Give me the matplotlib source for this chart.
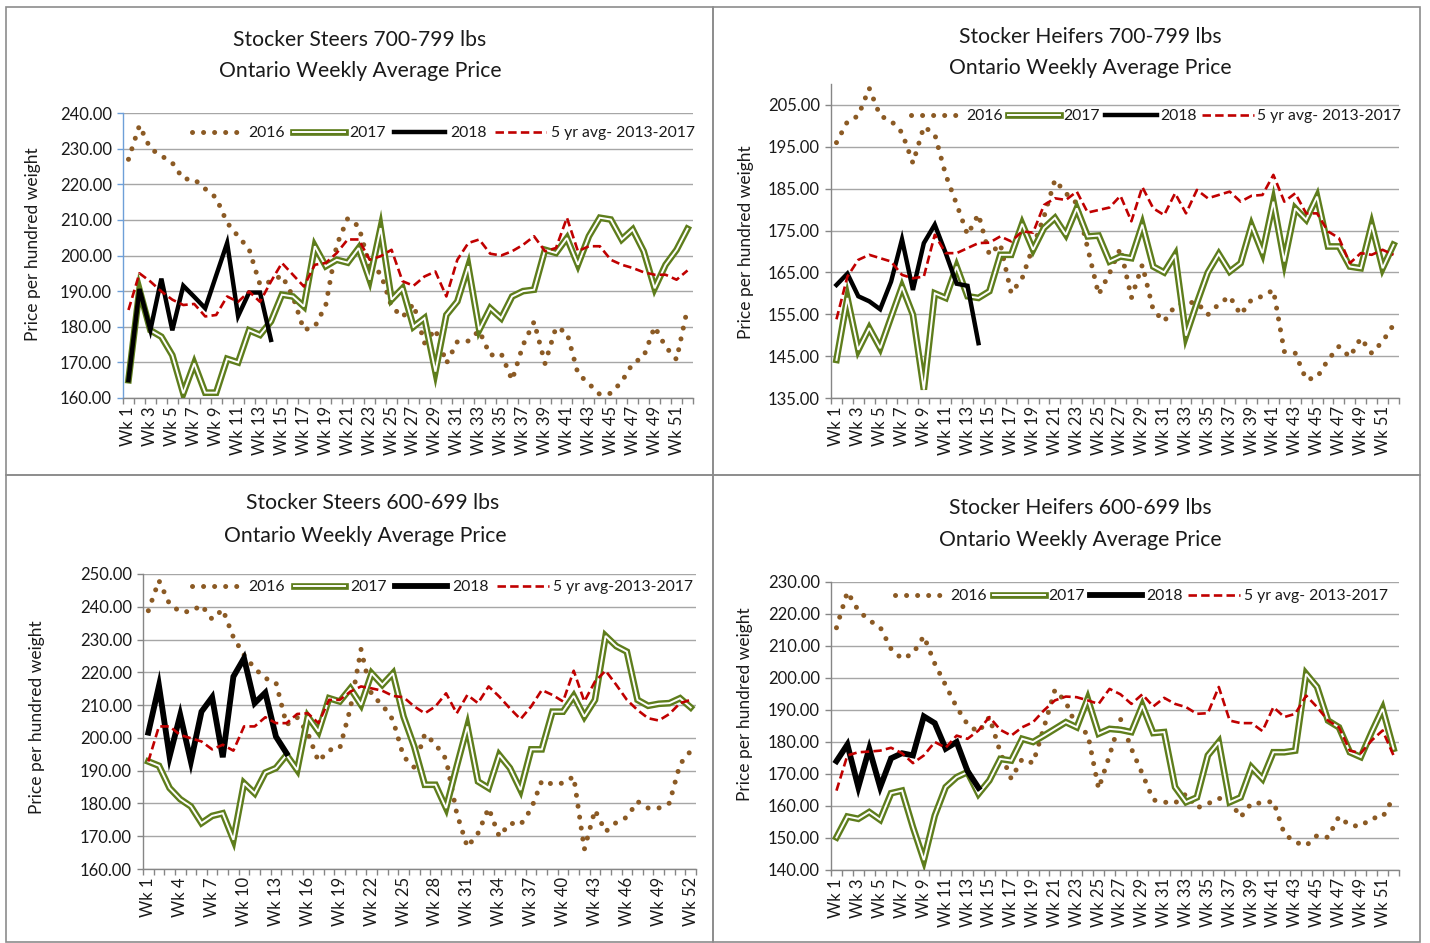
import matplotlib
matplotlib.use("Agg")
import matplotlib.pyplot as plt
from matplotlib.patches import Rectangle
from matplotlib.legend_handler import HandlerTuple
import numpy as np

plt.rcParams['font.family'] = ['Lato', 'DejaVu Sans']

weeks = list(range(1, 53))

# ---------------- Panel 1: Stocker Steers 700-799 lbs ----------------
p1_title = "Stocker Steers 700-799 lbs"
p1_2016 = [227, 236.5, 230, 228, 226, 221.5, 221.4, 218.7, 216.2, 209.2, 205.4, 201.8, 191.8, 192.7,
           194.4, 188.5, 179.1, 180, 186.1, 203, 210.4, 208.2, 197, 195, 185.7, 182.7, 186.4, 175.4,
           179.3, 169.7, 175.8, 176, 178.9, 172, 172.5, 165, 174.9, 181.4, 169.7, 179.8, 178.4, 166.9,
           164, 161, 161.3, 164.6, 169.7, 171.6, 180, 174.4, 170.8, 185.2]
p1_2017 = [165, 190.4, 179, 177.2, 172, 161.3, 169.7, 161.5, 161.5, 171, 170, 179, 177.7, 181.5,
           189, 188.5, 185.7, 202.6, 197, 198.8, 198, 202.1, 193.2, 207.7, 187.6, 190.8, 180, 182.4,
           167.4, 183.3, 187.1, 197, 179.1, 185.2, 182.4, 188.5, 190, 190.4, 201.6, 200.7, 204.9, 197.4,
           205.4, 210.6, 210.1, 204.5, 207.3, 201.2, 190.8, 197.4, 201.6, 207.5]
p1_2018 = [165, 190.6, 179.1, 193.5, 179, 191.5, 188.4, 185.2, 194.4, 203.5, 183, 189.6, 189.6, 176.3]
p1_avg = [184.7, 195, 192.7, 189.9, 187.6, 186.1, 186.4, 182.9, 183.3, 188.5, 187, 189.9, 187, 192.7,
          197.9, 194.6, 191.3, 197.4, 197.9, 200.7, 204.5, 204.5, 198.8, 199.8, 201.6, 192.8, 191.5, 194.1,
          195.5, 188.5, 198.8, 203.5, 204.5, 200.5, 200, 201.2, 203, 205.4, 201.2, 202.1, 210.6, 201.2,
          202.6, 202.6, 198.8, 197.4, 196.5, 195.3, 194.6, 194.6, 193.2, 195.8]

# ---------------- Panel 2: Stocker Heifers 700-799 lbs ----------------
p2_title = "Stocker Heifers 700-799 lbs"
p2_2016 = [196, 201, 202.4, 209, 202.4, 201.2, 198.4, 191.1, 199.8, 198, 188.3, 181.3, 174, 178.9,
           169.2, 171.8, 160, 163.6, 171.2, 178.3, 187.1, 183.9, 181.5, 170.8, 159.7, 164.8, 170.8, 158.9,
           166.8, 156, 153.3, 157, 157.8, 157.8, 154.9, 157.4, 159.3, 154.9, 158.5, 159.3, 160.8, 146.1,
           145.7, 139.4, 139.9, 144.1, 147.3, 144.8, 149.3, 145.7, 148.5, 152.5]
p2_2017 = [144.1, 158.9, 146.5, 151.7, 146.9, 154.3, 161.6, 154.9, 137, 160, 158.9, 166.4, 159.3, 158.9,
           160.5, 169.2, 169.2, 176.6, 170.4, 175.6, 178, 174, 180.3, 173.6, 173.8, 167.6, 168.8, 168.4,
           176.4, 166.4, 165, 169.2, 149.9, 157.7, 165, 169.4, 165.2, 167.2, 176.2, 169.6, 181.9, 167.6,
           180.3, 177.6, 183.1, 171.2, 171.2, 166.4, 166, 176.4, 166, 171.6]
p2_2018 = [162, 164.7, 159.3, 158.1, 156.2, 162.8, 172.9, 160.8, 172, 176.4, 169.6, 162.3, 161.8, 148.1]
p2_avg = [153.8, 164, 168, 169.2, 168.4, 167.6, 164.4, 163.6, 164, 174, 169.6, 169.6, 170.8, 172,
          172.1, 173.6, 172.4, 174.8, 174.5, 181.1, 182.7, 182.3, 184.3, 179.3, 179.9, 180.5, 183.3, 177.2,
          185.4, 180.3, 178.7, 183.9, 179.1, 184.7, 182.7, 183.5, 184.3, 181.9, 183.3, 183.5, 188.3, 181.9,
          183.9, 179.1, 179.1, 174.8, 173.2, 167.2, 169.6, 169.2, 170.4, 169.2]

# ---------------- Panel 3: Stocker Steers 600-699 lbs ----------------
p3_title = "Stocker Steers 600-699 lbs"
p3_2016 = [238.8, 248, 240.8, 238.5, 238.5, 240.5, 236.2, 239.2, 230.7, 225.3, 221.2, 218.2, 216.9, 204,
           206.2, 201.4, 192.8, 196.3, 196.8, 209, 227, 213.1, 210.1, 205.5, 194.3, 191, 201.2, 198.1,
           193.5, 177, 166.7, 170.9, 178.6, 169.9, 174, 173.5, 178.3, 186.9, 185.9, 186.2, 188.2, 166,
           178, 171.4, 174.2, 175.8, 180.6, 178.6, 178.6, 180.1, 192, 196]
p3_2017 = [192.8, 191.5, 184.7, 181.3, 179.1, 174, 176.2, 177, 168.9, 186.2, 183.1, 189.4, 190.8, 194.8,
           190.2, 206.5, 201.9, 212.1, 211.1, 215.1, 210.1, 219.7, 216.2, 219.7, 206.5, 197.4, 185.7, 185.7,
           178.6, 191.3, 203.5, 186.7, 184.7, 194.8, 190.8, 184.1, 196.5, 196.5, 208, 208, 212.8, 206.5,
           211.6, 231.1, 228, 226.3, 211.6, 209.8, 210.4, 210.6, 212.1, 209.3]
p3_2018 = [201.6, 215.9, 194.3, 207, 192.8, 208, 212.4, 194.1, 218.7, 224.3, 210.6, 213.8, 200.4, 195.3]
p3_avg = [192.8, 203.5, 203.5, 200.9, 199.9, 198.9, 196.5, 197.9, 196.1, 203.5, 203.5, 206.3, 204.5, 204.5,
          207.3, 207.5, 204.5, 211.6, 211.6, 214.1, 215.7, 215.1, 214.4, 212.8, 212.4, 209.6, 207.5, 209.6,
          213.6, 207.5, 213.1, 210.6, 215.7, 212.6, 209, 205.7, 209.6, 214.6, 213.1, 211.1, 220.5, 211.1,
          217.2, 220.5, 216.2, 211.6, 208.5, 206, 205.3, 207.3, 210.6, 211.6]

# ---------------- Panel 4: Stocker Heifers 600-699 lbs ----------------
p4_title = "Stocker Heifers 600-699 lbs"
p4_2016 = [215.7, 226.9, 221.1, 218, 215.9, 209.1, 206, 207.6, 213.1, 204.5, 197.7, 190.9, 185.5, 183.1,
           187.8, 176.8, 168.5, 174.7, 173.4, 184.6, 196.3, 192.5, 184.6, 182.6, 165.4, 175.8, 187.2, 177.9,
           170.1, 161.9, 161.2, 160.9, 163.8, 159.4, 160.7, 162.4, 161.7, 156.5, 160.9, 160.9, 161.5, 151.3,
           148.7, 147.6, 150.8, 150.2, 156.7, 153.9, 153.7, 156.2, 156.5, 162.7]
p4_2017 = [150.2, 156.7, 156, 158.1, 155.7, 164, 164.8, 153.4, 143.1, 157, 165.9, 169, 170.6, 163.8,
           168, 174.7, 174.2, 181, 180, 182, 184.1, 186.2, 184.6, 193.5, 182.6, 184.1, 183.8, 183.1,
           191.4, 182.8, 183.1, 165.9, 161.2, 162.7, 175.8, 180, 161.2, 162.7, 172.1, 168.5, 176.8, 176.8,
           177.3, 201.3, 197.2, 186.7, 184.6, 176.8, 175.3, 183.1, 190.4, 177.9]
p4_2018 = [174, 179.2, 165.9, 177.9, 165.9, 174.9, 176.5, 175.8, 188, 185.9, 177.9, 180, 170.9, 165.7]
p4_avg = [164.8, 175.8, 176.8, 177, 177.3, 178.2, 176.5, 173.4, 175.8, 180, 178.2, 182, 181, 183.6,
          187.8, 183.8, 182, 184.6, 186.2, 189.9, 193, 194.2, 194, 193, 191.9, 196.6, 194.9, 191.9,
          194.9, 191.1, 193.8, 191.9, 190.9, 188.8, 189, 197.2, 186.7, 185.9, 185.9, 183.4, 190.9, 187.8,
          188.8, 194.5, 190.9, 186.7, 184.6, 177.3, 176.5, 180.5, 183.6, 175.8]

subtitle = "Ontario Weekly Average Price"
ylabel = "Price per hundred weight"
series_labels = ["2016", "2017", "2018"]
avg_label_a = "5 yr avg- 2013-2017"
avg_label_b = "5 yr avg-2013-2017"

W, H = 1430, 943
fig = plt.figure(figsize=(W / 100, H / 100), dpi=100)
fig.patch.set_facecolor('white')

C2016 = '#8B5A24'
C2017 = '#5E7D1C'
C2018 = '#000000'
CAVG = '#C00000'
GRID = '#A6A6A6'
TXT = '#1a1a1a'


def fx(px):
    return px / W


def fy(py):
    return 1 - py / H


panels = [
    dict(title=p1_title, d16=p1_2016, d17=p1_2017, d18=p1_2018, davg=p1_avg, avg_label=avg_label_a,
         box=(123, 113, 693, 398), ylim=(160, 240), yt=np.arange(160, 241, 10), step=2,
         tx=(360, 360), ty=(40, 71), yl=(33, 244), leg=(192, 133), ltp=0.3, lcs=0.5,
         lw18=3.2, yspine='#6E9FD8'),
    dict(title=p2_title, d16=p2_2016, d17=p2_2017, d18=p2_2018, davg=p2_avg, avg_label=avg_label_a,
         box=(831, 84, 1399, 398), ylim=(135, 210), yt=np.arange(135, 206, 10), step=2,
         tx=(1090, 1090), ty=(37, 68), yl=(746, 242), leg=(911, 116), ltp=0.25, lcs=0.3,
         lw18=3.2, yspine='#868686'),
    dict(title=p3_title, d16=p3_2016, d17=p3_2017, d18=p3_2018, davg=p3_avg, avg_label=avg_label_b,
         box=(143, 574, 696, 869), ylim=(160, 250), yt=np.arange(160, 251, 10), step=3,
         tx=(373, 365), ty=(503, 536), yl=(37, 717), leg=(192, 587), ltp=0.3, lcs=0.55,
         lw18=4.2, yspine='#868686'),
    dict(title=p4_title, d16=p4_2016, d17=p4_2017, d18=p4_2018, davg=p4_avg, avg_label=avg_label_a,
         box=(831, 582, 1399, 870), ylim=(140, 230), yt=np.arange(140, 231, 10), step=2,
         tx=(1080, 1080), ty=(508, 540), yl=(745, 704), leg=(895, 596), ltp=0.25, lcs=0.35,
         lw18=4.2, yspine='#868686'),
]

# panel borders
for (x0, y0, x1, y1) in [(6, 7, 713, 475), (713, 7, 1420, 475), (6, 475, 713, 942), (713, 475, 1420, 942)]:
    fig.add_artist(Rectangle((fx(x0), fy(y1)), fx(x1 - x0), (y1 - y0) / H, transform=fig.transFigure,
                             fill=False, ec='#8c8c8c', lw=1.2, zorder=0))

for p in panels:
    l, t, r, b = p['box']
    ax = fig.add_axes([fx(l), fy(b), fx(r - l), (b - t) / H])
    ax.set_xlim(0.5, 52.5)
    ax.set_ylim(*p['ylim'])

    x18 = weeks[:len(p['d18'])]
    h16, = ax.plot(weeks, p['d16'], color=C2016, lw=3.6, linestyle=(0, (0.01, 2.2)),
                   dash_capstyle='round', solid_capstyle='round', zorder=2)
    h17a, = ax.plot(weeks, p['d17'], color=C2017, lw=4.8, solid_joinstyle='miter', zorder=3)
    h17b, = ax.plot(weeks, p['d17'], color='white', lw=1.4, solid_joinstyle='miter', zorder=3.1)
    h18, = ax.plot(x18, p['d18'], color=C2018, lw=p['lw18'], solid_joinstyle='miter', zorder=4)
    havg, = ax.plot(weeks, p['davg'], color=CAVG, lw=1.9, linestyle=(0, (3.2, 1.6)), zorder=5)

    # axes styling
    for s in ['top', 'right']:
        ax.spines[s].set_visible(False)
    ax.spines['left'].set_color(p['yspine'])
    ax.spines['bottom'].set_color('#868686')
    ax.spines['left'].set_linewidth(1.0)
    ax.spines['bottom'].set_linewidth(1.0)
    ax.set_yticks(p['yt'])
    ax.set_yticklabels([f"{v:.2f}" for v in p['yt']], fontsize=12, color=TXT)
    ax.tick_params(axis='y', length=4, width=1, color=p['yspine'], pad=4)
    ax.yaxis.grid(True, color=GRID, lw=1.0)
    ax.set_axisbelow(True)

    # x: tick marks at category boundaries, labels at centres
    ax.set_xticks(np.arange(0.5, 53, 1.0))
    ax.set_xticklabels([])
    ax.tick_params(axis='x', which='major', length=4, width=1, color='#868686')
    lab_weeks = list(range(1, 53, p['step']))
    if p['step'] == 3 and 52 not in lab_weeks:
        lab_weeks.append(52)
    ax.set_xticks(lab_weeks, minor=True)
    ax.set_xticklabels([f"Wk {w}" for w in lab_weeks], minor=True, rotation=90, fontsize=12, color=TXT)
    ax.tick_params(axis='x', which='minor', length=0, pad=6)

    # titles
    fig.text(fx(p['tx'][0]), fy(p['ty'][0]), p['title'], ha='center', va='center', fontsize=15.2, color=TXT)
    fig.text(fx(p['tx'][1]), fy(p['ty'][1]), subtitle, ha='center', va='center', fontsize=15.2, color=TXT)
    fig.text(fx(p['yl'][0]), fy(p['yl'][1]), ylabel, rotation=90, ha='center', va='center',
             fontsize=12.5, color=TXT)

    leg = ax.legend([h16, (h17a, h17b), h18, havg], series_labels + [p['avg_label']],
                    handler_map={tuple: HandlerTuple(ndivide=1)},
                    loc='center left', bbox_to_anchor=(fx(p['leg'][0]), fy(p['leg'][1])),
                    bbox_transform=fig.transFigure, ncol=4, frameon=False, fontsize=11.3,
                    handlelength=3.3, handletextpad=p['ltp'], columnspacing=p['lcs'], borderpad=0,
                    borderaxespad=0)
    for txt in leg.get_texts():
        txt.set_color(TXT)

fig.savefig("out.png", dpi=100, facecolor='white')
